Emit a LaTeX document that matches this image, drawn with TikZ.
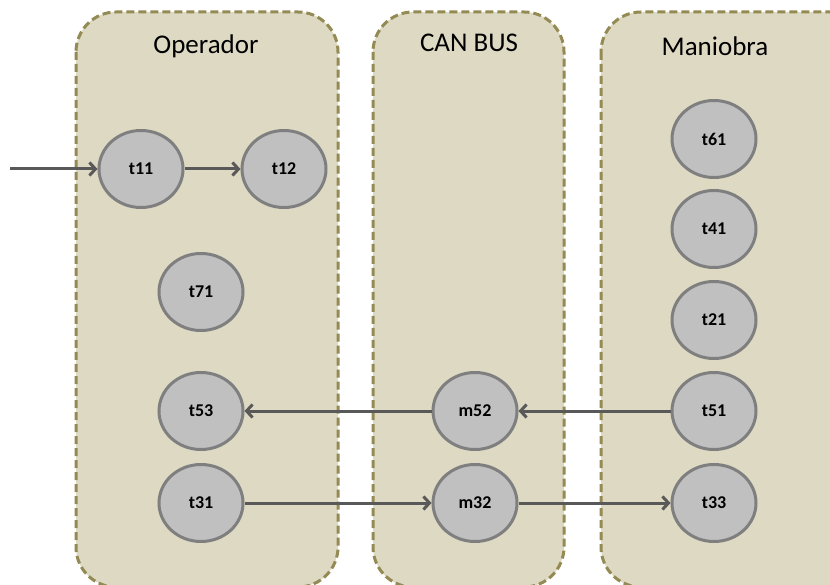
\documentclass[tikz,border=0pt]{standalone}
\usepackage{fontspec}
\setmainfont{Carlito}
\usetikzlibrary{arrows.meta,shapes.geometric}
\definecolor{panelfill}{HTML}{DDD9C3}
\definecolor{paneledge}{HTML}{948A54}
\definecolor{statefill}{HTML}{C0C0C0}
\definecolor{stateedge}{HTML}{7F7F7F}
\definecolor{flow}{HTML}{595959}
\tikzset{
  panel/.style={fill=panelfill, draw=paneledge, line width=3pt,
    dash pattern=on 8pt off 4pt, rounded corners=40pt},
  paneltitle/.style={font=\fontsize{27}{30}\selectfont, anchor=center},
  state/.style={ellipse, fill=statefill, draw=stateedge, line width=3pt,
    minimum width=84pt, minimum height=77pt, inner sep=0pt,
    font=\bfseries\fontsize{18}{20}\selectfont},
  flowarrow/.style={draw=flow, line width=3pt,
    -{Straight Barb[length=6pt,width=13pt,line width=3pt]}},
}
\begin{document}
\begin{tikzpicture}[x=1pt,y=-1pt]
  \useasboundingbox (0,0) rectangle (830,585);
  \clip (0,0) rectangle (830,585);
  \fill[white] (0,0) rectangle (830,585);

  % swimlanes
  \draw[panel] (76,12) rectangle (338,587);
  \draw[panel] (373,12) rectangle (564,587);
  \draw[panel] (601,12) rectangle (872,587);

  \node[paneltitle] (opTitle) at (206,46) {Operador};
  \node[paneltitle] (canTitle) at (469,43) {CAN BUS};
  \node[paneltitle] (manTitle) at (715,46) {Maniobra};

  % Operador states
  \node[state] (t11) at (141,169) {t11};
  \node[state] (t12) at (284,169) {t12};
  \node[state] (t71) at (201,292) {t71};
  \node[state] (t53) at (201,411) {t53};
  \node[state] (t31) at (201,503) {t31};

  % CAN BUS messages
  \node[state] (m52) at (475,411) {m52};
  \node[state] (m32) at (475,503) {m32};

  % Maniobra states
  \node[state] (t61) at (714,139) {t61};
  \node[state] (t41) at (714,229) {t41};
  \node[state] (t21) at (714,320) {t21};
  \node[state] (t51) at (714,411) {t51};
  \node[state] (t33) at (714,503) {t33};

  % transitions
  \coordinate (start) at (10,169);
  \draw[flowarrow] (start) -- (t11);
  \draw[flowarrow] (t11) -- (t12);
  \draw[flowarrow] (t51) -- (m52);
  \draw[flowarrow] (m52) -- (t53);
  \draw[flowarrow] (t31) -- (m32);
  \draw[flowarrow] (m32) -- (t33);
\end{tikzpicture}
\end{document}
